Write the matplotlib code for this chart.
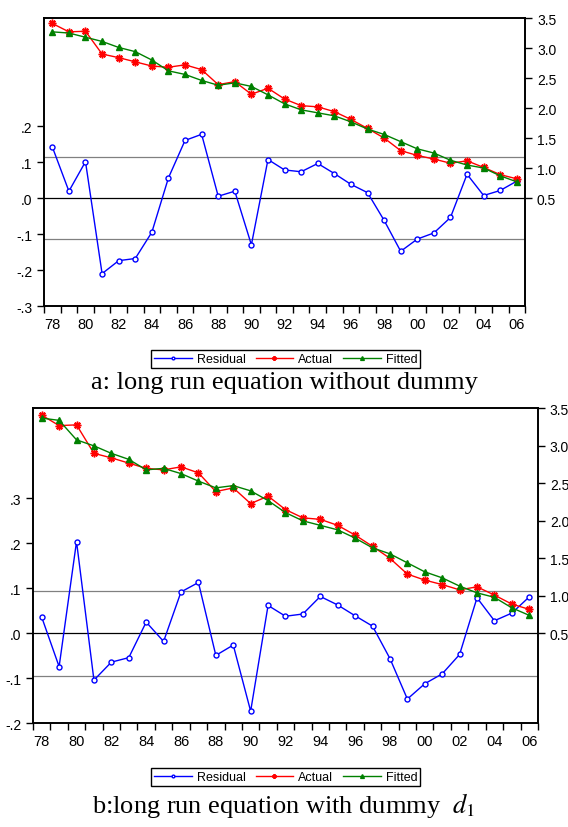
import matplotlib.pyplot as plt
import numpy as np

plt.rcParams['font.family'] = ['Liberation Sans', 'DejaVu Sans']
plt.rcParams['mathtext.fontset'] = 'stix'

years = np.arange(1978, 2007)
year_labels = ['78', '80', '82', '84', '86', '88', '90', '92', '94', '96',
               '98', '00', '02', '04', '06']

# actual series (same in both panels)
actual = [3.41, 3.27, 3.28, 2.90, 2.84, 2.77, 2.70, 2.68, 2.72, 2.64,
          2.39, 2.44, 2.23, 2.33, 2.15, 2.04, 2.02, 1.94, 1.81, 1.66,
          1.50, 1.29, 1.21, 1.15, 1.08, 1.12, 1.01, 0.89, 0.82]

# panel a: without dummy
fitted_a = [3.27, 3.25, 3.18, 3.11, 3.01, 2.94, 2.80, 2.62, 2.56, 2.46,
            2.38, 2.42, 2.36, 2.22, 2.07, 1.97, 1.92, 1.87, 1.77, 1.65,
            1.56, 1.44, 1.32, 1.25, 1.13, 1.05, 1.00, 0.87, 0.77]
resid_a = [0.142, 0.019, 0.101, -0.210, -0.174, -0.168, -0.095, 0.056, 0.160, 0.177,
           0.005, 0.019, -0.130, 0.107, 0.078, 0.073, 0.096, 0.068, 0.038, 0.015,
           -0.062, -0.148, -0.114, -0.097, -0.054, 0.066, 0.007, 0.021, 0.047]
sd_a = 0.115

# panel b: with dummy d1
fitted_b = [3.37, 3.34, 3.08, 3.00, 2.90, 2.82, 2.68, 2.70, 2.63, 2.53,
            2.44, 2.47, 2.40, 2.27, 2.11, 2.00, 1.94, 1.88, 1.77, 1.64,
            1.56, 1.44, 1.32, 1.24, 1.13, 1.04, 0.98, 0.84, 0.74]
resid_b = [0.036, -0.074, 0.204, -0.104, -0.064, -0.054, 0.025, -0.018, 0.092, 0.113,
           -0.049, -0.026, -0.173, 0.062, 0.038, 0.043, 0.082, 0.063, 0.039, 0.016,
           -0.056, -0.146, -0.112, -0.090, -0.047, 0.079, 0.028, 0.045, 0.081]
sd_b = 0.094

right_ticks = [0.5, 1.0, 1.5, 2.0, 2.5, 3.0, 3.5]
right_labels = ['0.5', '1.0', '1.5', '2.0', '2.5', '3.0', '3.5']


def draw_panel(rect, resid, fitted, sd, left_lim, right_lim, left_ticks, left_labels,
               legend_y, caption, caption_y):
    ax = fig.add_axes(rect)
    ax2 = ax.twinx()

    # reference lines
    ax.axhline(0, color='black', linewidth=0.9, zorder=1)
    ax.axhline(sd, color='gray', linewidth=0.9, zorder=1)
    ax.axhline(-sd, color='gray', linewidth=0.9, zorder=1)

    l1, = ax.plot(years, resid, color='#0000FF', linewidth=1.0, marker='o',
                  markersize=3.6, markerfacecolor='white', markeredgewidth=1.0,
                  label='Residual')
    l2, = ax2.plot(years, actual, color='#FF0000', linewidth=1.0, marker=(8, 2, 0),
                   markersize=5.5, markeredgewidth=1.1, label='Actual')
    l3, = ax2.plot(years, fitted, color='#008000', linewidth=1.0, marker='^',
                   markersize=5, label='Fitted')

    ax.set_xlim(1977.5, 2006.5)
    ax.set_ylim(left_lim)
    ax2.set_ylim(right_lim)

    # year labels centred on the points, ticks between the years
    ax.set_xticks(years[::2])
    ax.set_xticklabels(year_labels, fontsize=10.5)
    ax.set_xticks(np.arange(1977.5, 2007, 1.0), minor=True)
    ax.tick_params(axis='x', which='major', length=0, pad=8)
    ax.tick_params(axis='x', which='minor', direction='out', length=5, width=1)

    ax.set_yticks(left_ticks)
    ax.set_yticklabels(left_labels, fontsize=10)
    ax.tick_params(axis='y', direction='out', length=5, width=1)

    ax2.set_yticks(right_ticks)
    ax2.set_yticklabels(right_labels, fontsize=10)
    ax2.tick_params(axis='y', direction='out', length=5, width=1)

    for a in (ax, ax2):
        for s in a.spines.values():
            s.set_linewidth(1.2)

    fig.legend(handles=[l1, l2, l3], loc='center', bbox_to_anchor=(0.503, legend_y),
               ncol=3, fontsize=9, frameon=True, fancybox=False, edgecolor='black',
               framealpha=1, handlelength=3.0, handletextpad=0.4, columnspacing=0.8,
               borderpad=0.25, markerscale=0.55)
    fig.text(0.5, caption_y, caption, ha='center', va='center', fontsize=19,
             family='Liberation Serif')


fig = plt.figure(figsize=(5.68, 8.28), dpi=100)

draw_panel([0.0775, 0.6292, 0.847, 0.3478], resid_a, fitted_a, sd_a,
           (-0.3, 0.5), (-1.3, 3.5),
           [-0.3, -0.2, -0.1, 0.0, 0.1, 0.2], ['-.3', '-.2', '-.1', '.0', '.1', '.2'],
           0.565, 'a: long run equation without dummy', 0.538)

draw_panel([0.0581, 0.1252, 0.889, 0.3804], resid_b, fitted_b, sd_b,
           (-0.2, 0.5), (-0.7, 3.5),
           [-0.2, -0.1, 0.0, 0.1, 0.2, 0.3], ['-.2', '-.1', '.0', '.1', '.2', '.3'],
           0.060, r'b:long run equation with dummy  $d_1$', 0.027)

plt.savefig('out.png', dpi=100)
